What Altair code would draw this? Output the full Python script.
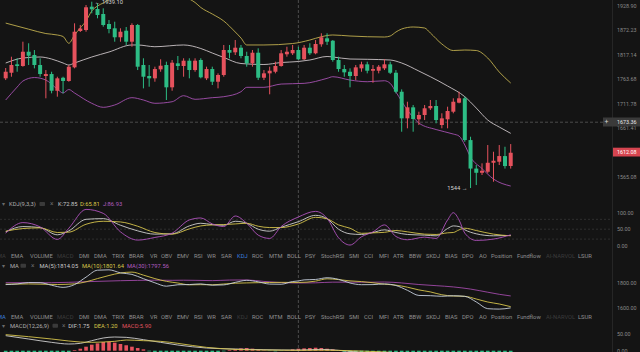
import altair as alt
import pandas as pd

FONT = "Roboto"
BG = "#141414"
RED = "#e6525d"
GREEN = "#2dbd85"
AXIS_C = "#8a8a8a"
TAB_C = "#909090"
FADE_C = "#3c3c3c"
BLUE_C = "#3b7ddd"
YEL = "#d6c44c"
PUR = "#b052bd"
WHT = "#cfcfcf"

# ---------------- candles ----------------
OPEN = [1765.6, 1777.7, 1796.1, 1792.4, 1824.0, 1816.7, 1794.6, 1770.6, 1774.9, 1739.0,
        1766.9, 1759.8, 1789.5, 1870.8, 1873.1, 1927.3, 1921.9, 1910.1, 1886.9, 1877.0,
        1856.5, 1871.5, 1846.5, 1884.6, 1794.6, 1770.6, 1765.6, 1785.1, 1794.6, 1746.3,
        1798.3, 1792.4, 1804.1, 1783.6, 1805.6, 1765.6, 1785.8, 1758.3, 1772.8, 1827.8,
        1822.7, 1833.0, 1814.5, 1798.3, 1821.8, 1766.9, 1776.4, 1779.9, 1792.4, 1818.3,
        1820.5, 1827.8, 1807.2, 1833.0, 1820.5, 1840.6, 1854.2, 1848.7, 1805.6, 1785.8,
        1779.9, 1770.6, 1787.3, 1796.1, 1782.1, 1782.1, 1787.3, 1796.1, 1777.7, 1736.9,
        1681.3, 1704.1, 1679.3, 1688.2, 1702.1, 1706.9, 1667.6, 1679.3, 1695.0, 1713.8,
        1723.0, 1637.2, 1581.1, 1573.0, 1575.0, 1592.4, 1594.4, 1605.5, 1586.0]
HIGH = [1788.0, 1812.9, 1809.4, 1846.5, 1842.9, 1827.8, 1809.4, 1783.6, 1779.9, 1769.1,
        1769.1, 1794.6, 1888.5, 1884.6, 1931.3, 1939.1, 1935.3, 1923.5, 1896.1, 1892.2,
        1877.0, 1880.0, 1888.5, 1886.9, 1809.4, 1794.6, 1790.9, 1807.2, 1801.9, 1805.6,
        1814.5, 1809.4, 1809.4, 1809.4, 1809.4, 1790.9, 1790.9, 1776.4, 1839.1, 1839.1,
        1850.3, 1839.1, 1824.0, 1827.8, 1831.6, 1783.6, 1790.9, 1801.9, 1827.8, 1835.2,
        1839.1, 1835.2, 1839.1, 1842.9, 1850.3, 1865.6, 1865.6, 1850.3, 1812.9, 1794.6,
        1787.3, 1794.6, 1801.9, 1801.9, 1794.6, 1794.6, 1807.2, 1801.9, 1783.6, 1741.9,
        1715.8, 1709.0, 1695.0, 1709.0, 1719.4, 1719.4, 1691.7, 1705.4, 1723.0, 1736.9,
        1726.4, 1643.9, 1588.0, 1591.3, 1627.3, 1614.0, 1627.3, 1623.9, 1629.2]
LOW = [1761.9, 1769.1, 1779.9, 1790.9, 1794.6, 1787.3, 1769.1, 1723.0, 1733.5, 1726.4,
       1733.5, 1758.3, 1787.3, 1868.5, 1869.2, 1911.8, 1900.1, 1880.7, 1865.6, 1846.5,
       1846.5, 1839.1, 1835.2, 1783.6, 1744.1, 1747.6, 1758.3, 1779.9, 1719.4, 1739.0,
       1783.6, 1769.1, 1765.6, 1779.9, 1765.6, 1761.9, 1751.2, 1744.1, 1769.1, 1809.4,
       1816.7, 1809.4, 1790.9, 1790.9, 1761.9, 1761.9, 1731.4, 1776.4, 1790.9, 1812.9,
       1816.7, 1805.6, 1805.6, 1816.7, 1818.3, 1835.2, 1839.1, 1801.9, 1779.9, 1769.1,
       1746.3, 1761.9, 1779.9, 1776.4, 1756.1, 1776.4, 1783.6, 1774.9, 1733.5, 1654.0,
       1660.9, 1654.0, 1667.6, 1677.8, 1698.5, 1671.1, 1660.9, 1660.9, 1691.7, 1712.5,
       1633.8, 1544.0, 1549.6, 1568.7, 1571.9, 1555.9, 1588.0, 1581.1, 1581.1]
CLOSE = [1779.9, 1794.6, 1792.4, 1824.0, 1815.1, 1794.6, 1774.9, 1774.9, 1739.0, 1765.6,
         1759.8, 1790.9, 1869.2, 1876.5, 1925.9, 1921.2, 1907.8, 1884.6, 1875.4, 1856.5,
         1869.2, 1846.5, 1884.6, 1790.9, 1769.1, 1765.6, 1785.8, 1793.1, 1746.3, 1799.7,
         1792.4, 1804.1, 1783.6, 1804.1, 1767.8, 1785.8, 1758.3, 1772.8, 1827.8, 1821.8,
         1833.0, 1814.5, 1798.3, 1821.8, 1766.9, 1776.4, 1782.1, 1792.4, 1820.5, 1824.0,
         1827.8, 1807.2, 1833.0, 1820.5, 1841.3, 1856.5, 1846.5, 1805.6, 1785.8, 1778.6,
         1770.6, 1789.5, 1796.1, 1782.1, 1785.8, 1790.9, 1796.1, 1777.7, 1736.9, 1681.3,
         1704.1, 1679.9, 1688.2, 1702.1, 1706.9, 1677.8, 1681.3, 1696.4, 1715.8, 1723.0,
         1637.2, 1581.1, 1573.0, 1576.9, 1592.4, 1596.3, 1605.5, 1586.0, 1612.08]
IDX = list(range(len(OPEN)))

# ---------------- Bollinger bands ----------------
BB_UP_I = [0, 4, 7, 9, 10, 11, 12, 13, 14, 15, 16, 17, 20, 25, 30, 32, 33, 34, 36, 38,
           40, 41, 42, 45, 50, 53, 55, 57, 60, 66, 67, 68, 69, 71, 73, 74, 76, 78, 80, 82,
           84, 86, 88]
BB_UP = [1889, 1875, 1865, 1861.7, 1858.3, 1843.0, 1861.7, 1877.7, 1893.8, 1917.2,
         1928.9, 1936.0, 1955, 1962, 1955, 1945.5, 1937.2, 1925.4, 1910.1, 1893.8,
         1868.5, 1854.9, 1839.1, 1839.1, 1842.4, 1850.3, 1857.8, 1861.7, 1859.4, 1857.1,
         1859.4, 1868.5, 1875.4, 1880.0, 1877.7, 1866.3, 1841.3, 1826.7, 1827.8, 1826.7,
         1810.0, 1779.3, 1755.5]
BB_MID_I = [0, 3, 6, 8, 10, 11, 12, 15, 18, 22, 23, 26, 31, 34, 36, 38, 41, 45, 48, 51,
            53, 56, 57, 60, 63, 67, 69, 72, 74, 77, 80, 82, 84, 86, 88]
BB_MID = [1799.0, 1810.0, 1812.3, 1807.8, 1799.0, 1794.6, 1799.0, 1812.3, 1823.4, 1839.1,
          1839.1, 1835.2, 1839.1, 1831.2, 1821.1, 1811.2, 1797.9, 1795.7, 1800.1, 1802.3,
          1805.6, 1813.4, 1812.3, 1807.8, 1807.2, 1805.6, 1799.0, 1781.4, 1769.1, 1749.1,
          1726.4, 1702.6, 1677.8, 1663.5, 1650.7]
BB_LOW_I = [0, 2, 3, 5, 7, 9, 10, 11, 12, 15, 17, 19, 22, 24, 26, 29, 31, 33, 36, 38,
            41, 42, 45, 48, 52, 56, 57, 60, 63, 66, 67, 68, 70, 72, 75, 78, 79, 80, 81, 83,
            85, 88]
BB_LOW = [1719.4, 1746.9, 1759.8, 1767.3, 1761.9, 1742.6, 1734.2, 1741.6, 1734.2, 1712.5,
          1704.1, 1709.0, 1724.3, 1719.4, 1712.5, 1715.8, 1728.5, 1720.9, 1724.3, 1726.4,
          1736.9, 1746.3, 1746.3, 1753.3, 1754.8, 1765.6, 1769.1, 1761.9, 1758.3, 1760.4,
          1754.8, 1736.3, 1698.5, 1671.7, 1658.4, 1649.3, 1645.3, 1627.3, 1603.6, 1581.1,
          1561.0, 1547.7]

PRICE_TICKS = [1928.90, 1872.23, 1817.14, 1763.68, 1711.78, 1661.41, 1565.08]
CROSS_PRICE = 1673.36
CROSS_I = 51
LOW_MARK = (81, 1544.0)
HIGH_MARK = (15, 1939.10)

# ---------------- KDJ ----------------
KDJ_I = [0, 3, 6, 9, 11, 14, 17, 20, 23, 26, 29, 32, 34, 36, 38, 40, 42, 44, 46, 48,
         51, 54, 56, 58, 60, 62, 64, 66, 68, 70, 73, 75, 77, 78, 79, 80, 82, 85, 88]
K_VAL = [42, 58, 55, 33, 45, 80, 82, 62, 45, 35, 36, 60, 68, 64, 62, 74, 68, 50, 44, 56,
         72.85, 92, 82, 50, 36, 34, 40, 48, 40, 34, 32, 30, 52, 60, 58, 48, 36, 30, 31]
D_VAL = [44, 52, 54, 40, 41, 65, 74, 72, 59, 40, 35, 51, 60, 63, 64, 66, 68, 59, 55, 55,
         65.81, 86, 81.5, 63, 53, 37.5, 39, 40.5, 46, 42, 35, 34, 39, 40, 48, 53, 46, 35, 30]
J_VAL = [38, 70, 57, 19, 53, 110, 98, 42, 17, 25, 38, 78, 84, 66, 58, 90, 68, 32, 22, 58,
         86.93, 104, 83, 24, 2, 27, 42, 63, 28, 18, 26, 22, 78, 100, 78, 38, 16, 20, 33]
KDJ_TICKS = [100, 50, 0]
KDJ_LEVELS = [80, 50, 20]

# ---------------- MA ----------------
MA5_I = [0, 2, 4, 6, 8, 10, 12, 14, 16, 18, 20, 22, 24, 26, 28, 30, 32, 34, 36, 38,
         40, 42, 44, 46, 48, 50, 51, 52, 54, 56, 58, 60, 62, 64, 66, 68, 70, 72, 74, 76,
         78, 80, 82, 84, 86, 88]
MA5 = [1785, 1790, 1801.2, 1800.2, 1779.7, 1762.8, 1784.9, 1844.5, 1900.1, 1903.0,
       1878.7, 1866.4, 1832.1, 1799.2, 1772.0, 1783.5, 1785.2, 1790.4, 1779.9, 1782.5,
       1802.7, 1819.1, 1806.9, 1789.1, 1787.7, 1809.4, 1814.05, 1822.5, 1826.0, 1839.6,
       1827.1, 1797.4, 1784.1, 1784.8, 1790.2, 1777.5, 1739.2, 1698.1, 1696.2, 1691.3,
       1695.6, 1690.7, 1646.0, 1592.1, 1588.8, 1598.5]
MA10_I = [0, 4, 9, 12, 14, 16, 18, 20, 22, 24, 26, 28, 30, 32, 34, 36, 38, 40, 42, 44,
          46, 48, 51, 54, 56, 58, 60, 62, 64, 66, 68, 70, 72, 74, 76, 78, 80, 82, 84, 86, 88]
MA10 = [1788, 1790, 1785.5, 1790.8, 1807.1, 1833.1, 1857.7, 1877.7, 1884.8, 1860.6,
        1832.8, 1810.8, 1797.4, 1783.1, 1784.3, 1783.5, 1789.6, 1795.9, 1798.4, 1800.1,
        1801.5, 1802.8, 1801.64, 1812.5, 1831.0, 1824.8, 1814.6, 1809.1, 1799.7, 1788.1,
        1780.4, 1764.1, 1742.3, 1726.4, 1703.6, 1693.4, 1690.9, 1669.5, 1645.5, 1629.8, 1608.4]
MA30_I = [0, 8, 14, 20, 26, 29, 31, 33, 36, 39, 42, 45, 48, 51, 54, 57, 60, 63, 66, 69,
          72, 75, 78, 81, 84, 86, 88]
MA30 = [1800, 1800, 1808, 1816, 1820, 1819.1, 1819.9, 1818.9, 1816.5, 1821.2, 1822.1,
        1810.2, 1801.1, 1797.56, 1799.0, 1804.4, 1804.3, 1803.5, 1805.5, 1798.0, 1785.5,
        1776.3, 1766.2, 1749.0, 1723.9, 1707.2, 1694.1]
MA_TICKS = [1800, 1600]

# ---------------- MACD ----------------
HIST = [-6, -8, -9, -10, -9, -8, -8, -9, -10, -9, -7, -4,
        2, 6, 12, 18, 22, 26, 27, 24, 20,
        16, 12, 8, 4, -2, -6, -10, -12, -12, -12, -11, -10, -9, -8, -7, -6, -4, -2,
        2, 5, 7, 8, 6, 3, 1,
        -1, -2, -1, 1,
        4, 5.9, 7, 8, 9, 8, 6, 4, 1,
        -3, -5, -6, -7, -8, -8, -8, -9, -10, -14, -20, -24, -27, -28, -28, -27, -26, -24,
        -22, -20, -24, -30, -34, -35, -34, -32, -30, -28, -26, -24]
DIF_I = [0, 4, 8, 11, 13, 15, 17, 19, 21, 24, 27, 30, 35, 40, 45, 51, 55, 58, 62, 70, 80, 88]
DIF = [45, 35, 25, 20, 22, 30, 38, 41, 40, 33, 25, 17, 8, 5, 3, 1.75, 4, 1, -5, -20, -40, -60]
DEA = [48, 42, 35, 29, 26, 25, 26, 28, 32, 30, 28, 22, 10, 4, 2, 1.2, 1.5, 1, -1, -8, -25, -45]
MACD_TICKS = [50, 0]

TABS = ["MA", "EMA", "VOLUME", "MACD", "DMI", "DMA", "TRIX", "BRAR", "VR", "OBV", "EMV",
        "RSI", "WR", "SAR", "KDJ", "ROC", "MTM", "BOLL", "PSY", "StochRSI", "SMI", "CCI",
        "MFI", "ATR", "BBW", "SKDJ", "BIAS", "DPO", "AO", "Position", "Fundflow",
        "AI-NARVOL", "LSUR"]
TAB_X = [-3, 11, 30, 57, 79, 94, 112, 129, 150, 161, 177, 194, 207, 221, 237, 252, 269,
         287, 305, 321, 349, 364, 379, 393, 409, 426, 445, 462, 479, 491, 517, 546, 578]

# ---------------- scales ----------------
XS = alt.Scale(domain=[-0.12, 109.657], range=[0, 640], nice=False, zero=False)
YM = alt.Scale(type="log", domain=[1528.96, 1943.11], range=[196, 0], nice=False, zero=False)
YK = alt.Scale(domain=[0, 100], range=[245.7, 212.7], nice=False, zero=False)
YA = alt.Scale(domain=[1600, 1800], range=[307.7, 282.7], nice=False, zero=False)
YD = alt.Scale(domain=[0, 50], range=[350.7, 334.0], nice=False, zero=False)

ONE = pd.DataFrame({"k": [0]})
X = lambda: alt.X("i:Q", scale=XS, axis=None)


def line(idx, vals, scale, color, width=0.9):
    df = pd.DataFrame({"i": idx, "v": vals})
    return alt.Chart(df).mark_line(color=color, strokeWidth=width, interpolate="monotone").encode(
        x=X(), y=alt.Y("v:Q", scale=scale, axis=None))


def ticks(vals, scale, x=617):
    df = pd.DataFrame({"v": vals})
    return alt.Chart(df).mark_text(align="left", baseline="middle", font=FONT, fontSize=5.4,
                                   color=AXIS_C).encode(
        x=alt.value(x), y=alt.Y("v:Q", scale=scale, axis=None), text=alt.Text("v:Q", format=".2f"))


def levels(vals, scale, color="#363636"):
    df = pd.DataFrame({"v": vals})
    return alt.Chart(df).mark_rule(color=color, strokeWidth=0.8, strokeDash=[2, 2]).encode(
        y=alt.Y("v:Q", scale=scale, axis=None), x=alt.value(0), x2=alt.value(612))


def txt(s, x, y, color, size=5.8, align="left"):
    return alt.Chart(ONE).mark_text(text=s, align=align, baseline="middle", font=FONT,
                                    fontSize=size, color=color).encode(
        x=alt.value(x), y=alt.value(y))


def box(x1, x2, y1, y2, color, r=0):
    return alt.Chart(ONE).mark_rect(color=color, cornerRadius=r).encode(
        x=alt.value(x1), x2=alt.value(x2), y=alt.value(y1), y2=alt.value(y2))


L = []
# frame / crosshair
L.append(alt.Chart(ONE).mark_rule(color="#262626", strokeWidth=1).encode(
    x=alt.value(612.5), y=alt.value(0), y2=alt.value(352)))
L.append(alt.Chart(pd.DataFrame({"i": [CROSS_I]})).mark_rule(
    color="#5a5a5a", strokeWidth=0.8, strokeDash=[3, 2]).encode(
    x=X(), y=alt.value(0), y2=alt.value(352)))
L.append(alt.Chart(pd.DataFrame({"v": [CROSS_PRICE]})).mark_rule(
    color="#5a5a5a", strokeWidth=0.8, strokeDash=[3, 2]).encode(
    y=alt.Y("v:Q", scale=YM, axis=None), x=alt.value(0), x2=alt.value(603)))

# Bollinger bands
L.append(line(BB_UP_I, BB_UP, YM, "#bfae4e"))
L.append(line(BB_MID_I, BB_MID, YM, "#cbc3c6"))
L.append(line(BB_LOW_I, BB_LOW, YM, "#a550b0"))

# candles
cdf = pd.DataFrame({"i": IDX, "open": OPEN, "high": HIGH, "low": LOW, "close": CLOSE})
updown = alt.condition("datum.close >= datum.open", alt.value(RED), alt.value(GREEN))
L.append(alt.Chart(cdf).mark_rule(strokeWidth=1).encode(
    x=X(), y=alt.Y("low:Q", scale=YM, axis=None), y2="high:Q", color=updown))
L.append(alt.Chart(cdf).mark_bar(size=4).encode(
    x=X(), y=alt.Y("open:Q", scale=YM, axis=None), y2="close:Q", color=updown))

# extreme marks
L.append(alt.Chart(pd.DataFrame({"i": [LOW_MARK[0]], "v": [LOW_MARK[1]]})).mark_text(
    align="right", baseline="middle", dx=-3, font=FONT, fontSize=5.8, color="#d0d0d0",
    text=f"{LOW_MARK[1]:.0f} \u2192").encode(x=X(), y=alt.Y("v:Q", scale=YM, axis=None)))
L.append(alt.Chart(pd.DataFrame({"i": [HIGH_MARK[0]], "v": [HIGH_MARK[1]]})).mark_text(
    align="left", baseline="middle", dx=3, font=FONT, fontSize=5.8, color="#d0d0d0",
    text=f"\u2190 {HIGH_MARK[1]:.2f}").encode(x=X(), y=alt.Y("v:Q", scale=YM, axis=None)))

L.append(ticks(PRICE_TICKS, YM))
L.append(box(603, 640, 117.5, 126.5, "#3a3a3a"))
L.append(txt("+", 606.5, 121.8, "#d0d0d0", size=7, align="center"))
L.append(txt(f"{CROSS_PRICE:.2f}", 617, 122, "#e6e6e6", size=5.4))
L.append(box(613, 640, 147.7, 156.5, "#d64550"))
L.append(txt(f"{CLOSE[-1]:.2f}", 617, 152.1, "#ffffff", size=5.4))

# KDJ panel
ki = KDJ_I.index(CROSS_I)
L.append(txt("\u25be", 2, 204, "#6a6a6a", size=5.5))
L.append(txt("KDJ(9,3,3)", 9, 204, "#b0b0b0"))
L.append(box(39.5, 45, 202, 206, "#3a3a3a", r=1))
L.append(txt("\u00d7", 50, 204, "#6a6a6a", size=6.5))
L.append(txt(f"K:{K_VAL[ki]:.2f}", 58, 204, "#c8c8c8"))
L.append(txt(f"D:{D_VAL[ki]:.2f}", 80, 204, "#d9c84a"))
L.append(txt(f"J:{J_VAL[ki]:.2f}", 103, 204, "#b35cc0"))
L.append(levels(KDJ_LEVELS, YK))
L.append(line(KDJ_I, K_VAL, YK, WHT))
L.append(line(KDJ_I, D_VAL, YK, YEL))
L.append(line(KDJ_I, J_VAL, YK, PUR))
L.append(ticks(KDJ_TICKS, YK))

# tab rows
row1_fade = {"MA", "MACD", "AI-NARVOL"}
row2_fade = {"MACD", "KDJ", "AI-NARVOL"}
for name, x in zip(TABS, TAB_X):
    c1 = BLUE_C if name == "KDJ" else (FADE_C if name in row1_fade else TAB_C)
    L.append(txt(name, x, 255.8, c1))
    c2 = BLUE_C if name == "MA" else (FADE_C if name in row2_fade else TAB_C)
    L.append(txt(name, x, 317.3, c2))

# MA panel
L.append(txt("\u25be", 2, 265.7, "#6a6a6a", size=5.5))
L.append(txt("MA", 10, 265.7, "#b0b0b0"))
L.append(box(20.5, 26, 263.7, 267.7, "#3a3a3a", r=1))
L.append(txt("\u00d7", 31, 265.7, "#6a6a6a", size=6.5))
L.append(txt(f"MA(5):{MA5[MA5_I.index(CROSS_I)]:.2f}", 39.5, 265.7, "#c8c8c8"))
L.append(txt(f"MA(10):{MA10[MA10_I.index(CROSS_I)]:.2f}", 82, 265.7, "#d9c84a"))
L.append(txt(f"MA(30):{MA30[MA30_I.index(CROSS_I)]:.2f}", 127, 265.7, "#b35cc0"))
L.append(line(MA30_I, MA30, YA, "#a04aa8"))
L.append(line(MA10_I, MA10, YA, YEL))
L.append(line(MA5_I, MA5, YA, "#c6cfdc"))
L.append(ticks(MA_TICKS, YA))

# MACD panel
L.append(txt("\u25be", 2, 325.7, "#6a6a6a", size=5.5))
L.append(txt("MACD(12,26,9)", 10, 325.7, "#b0b0b0"))
L.append(box(52.5, 58, 323.7, 327.7, "#3a3a3a", r=1))
L.append(txt("\u00d7", 62, 325.7, "#6a6a6a", size=6.5))
di = DIF_I.index(CROSS_I)
L.append(txt(f"DIF:{DIF[di]:.2f}", 68.3, 325.7, "#c8c8c8"))
L.append(txt(f"DEA:{DEA[di]:.2f}", 94, 325.7, "#d9c84a"))
L.append(txt(f"MACD:{HIST[CROSS_I]:.2f}", 122, 325.7, "#e0535f"))
hdf = pd.DataFrame({"i": IDX, "h": HIST, "z": [0] * len(HIST)})
L.append(alt.Chart(hdf).mark_bar(size=3.6).encode(
    x=X(), y=alt.Y("h:Q", scale=YD, axis=None), y2="z:Q",
    color=alt.condition("datum.h >= 0", alt.value(RED), alt.value(GREEN))))
L.append(line(DIF_I, DIF, YD, WHT))
L.append(line(DIF_I, DEA, YD, YEL))
L.append(ticks(MACD_TICKS, YD))

chart = alt.layer(*L).resolve_scale(y="independent").properties(
    width=640, height=352, autosize=alt.AutoSizeParams(type="none"), padding=0,
    background=BG).configure_view(strokeWidth=0)

chart.save("out.html", embed_options={"renderer": "svg", "actions": False})
